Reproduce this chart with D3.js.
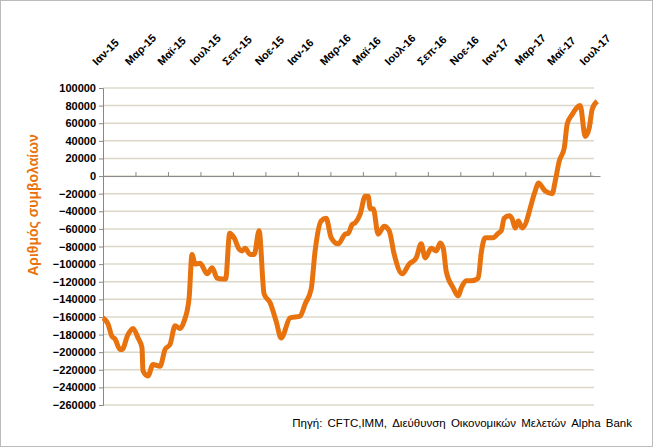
<!DOCTYPE html>
<html><head><meta charset="utf-8">
<script src="https://cdn.jsdelivr.net/npm/d3@7"></script>
<style>body{margin:0;background:#fff;font-family:Arial,"Liberation Sans",sans-serif}</style>
</head><body>
<div id="chart"></div>
<script>
// month labels along the top (every second month)
var tickLabels = ["Ιαν-15","Μαρ-15","Μαϊ-15","Ιουλ-15","Σεπ-15","Νοε-15","Ιαν-16","Μαρ-16","Μαϊ-16","Ιουλ-16","Σεπ-16","Νοε-16","Ιαν-17","Μαρ-17","Μαϊ-17","Ιουλ-17"];
// position in months since Jan 2015
var months = [0,0.31,0.55,0.74,1.05,1.17,1.54,1.85,2.16,2.40,2.46,2.77,3.08,3.51,3.82,4.13,4.44,4.74,4.99,5.30,5.48,5.67,5.98,6.41,6.72,7.03,7.33,7.55,7.80,8.07,8.38,8.57,8.75,9.06,9.31,9.61,9.92,10.29,10.66,10.97,11.52,12.14,12.45,12.82,13.06,13.43,13.74,14.05,14.48,14.91,15.10,15.34,15.53,15.84,16.14,16.33,16.45,16.64,16.94,17.31,17.62,17.93,18.42,18.85,19.28,19.59,19.84,20.21,20.52,20.76,20.95,21.13,21.56,21.87,22.06,22.36,22.67,23.10,23.29,23.53,24.02,24.33,24.52,24.70,25.01,25.20,25.38,25.57,25.81,26.61,26.80,27.23,27.66,27.84,28.09,28.40,28.58,28.89,29.38,29.69,29.94,30.12,30.43];
var positions = [-161000,-168000,-182000,-185000,-197000,-197000,-180000,-173000,-184000,-195000,-221000,-227000,-214000,-216000,-197000,-191000,-170000,-173000,-165000,-139000,-89000,-100000,-99000,-111000,-104000,-116000,-117000,-117000,-65000,-70000,-83000,-85000,-82000,-89000,-89000,-62000,-134000,-144000,-165000,-184000,-161000,-159000,-145000,-128000,-85000,-51000,-48000,-70000,-77000,-66000,-65000,-55000,-53000,-43000,-23000,-23000,-37000,-37000,-66000,-57000,-62000,-89000,-111000,-100000,-93000,-77000,-93000,-82000,-85000,-76000,-82000,-108000,-127000,-136000,-127000,-119000,-119000,-116000,-87000,-70000,-70000,-65000,-62000,-48000,-45000,-49000,-59000,-51000,-59000,-17000,-8000,-17000,-20000,-6000,17000,32000,59000,70000,80000,45000,55000,76000,85000];
var yTicks = d3.range(-260000, 100001, 20000);

var W = 653, H = 447;
var svg = d3.select("#chart").append("svg").attr("width", W).attr("height", H);
svg.append("rect").attr("x",0.5).attr("y",0.5).attr("width",W-1).attr("height",H-1)
    .attr("fill","#fff").attr("stroke","#bbb");

var x = d3.scaleLinear().domain([0, 30.6]).range([103, 600]);
var y = d3.scaleLinear().domain([-260000, 100000]).range([405, 88]);

// gridlines
svg.append("g").selectAll("line").data(yTicks).join("line")
    .attr("x1", 103).attr("x2", 594)
    .attr("y1", d => y(d)).attr("y2", d => y(d))
    .attr("stroke", "#dcd8c8").attr("stroke-width", 1.5);

// y axis
var yAxis = svg.append("g").attr("transform", "translate(103,0)")
    .call(d3.axisLeft(y).tickValues(yTicks).tickFormat(d3.format("d")).tickSize(4));
yAxis.select(".domain").attr("stroke", "#888");
yAxis.selectAll(".tick line").attr("stroke", "#888");
yAxis.selectAll("text").attr("font-size", 11).attr("font-weight", "bold").attr("fill", "#000").attr("font-family","Arial");

// x axis at zero
var xAxis = svg.append("g").attr("transform", "translate(0," + y(0) + ")")
    .call(d3.axisBottom(x).tickValues(d3.range(0, 31, 2)).tickFormat("").tickSize(4).tickSizeOuter(0));
xAxis.select(".domain").attr("stroke", "#888");
xAxis.selectAll(".tick line").attr("stroke", "#888").attr("y1", -4).attr("y2", 0);

// month labels along the top
svg.append("g").selectAll("text").data(tickLabels).join("text")
    .attr("transform", (d, i) => "translate(" + (x(i * 2) - 6) + ",66) rotate(-45)")
    .attr("font-size", 11).attr("font-weight", "bold").attr("font-family","Arial")
    .text(d => d);

// line
svg.append("path")
    .datum(months.map((m, i) => [m, positions[i]]))
    .attr("d", d3.line().x(d => x(d[0])).y(d => y(d[1])).curve(d3.curveMonotoneX))
    .attr("fill", "none").attr("stroke", "#e8730e").attr("stroke-width", 5)
    .attr("stroke-linejoin", "round");

// y title
svg.append("text").attr("transform", "translate(38,205) rotate(-90)")
    .attr("text-anchor", "middle").attr("font-size", 14).attr("font-weight", "bold")
    .attr("fill", "#e8730e").text("Αριθμός συμβολαίων");

// source
svg.append("text").attr("x", 632).attr("y", 427).attr("text-anchor", "end")
    .attr("font-size", 11.5).attr("font-family","Arial").attr("word-spacing", 2)
    .text("Πηγή: CFTC,IMM, Διεύθυνση Οικονομικών Μελετών Alpha Bank");
</script>
</body></html>
